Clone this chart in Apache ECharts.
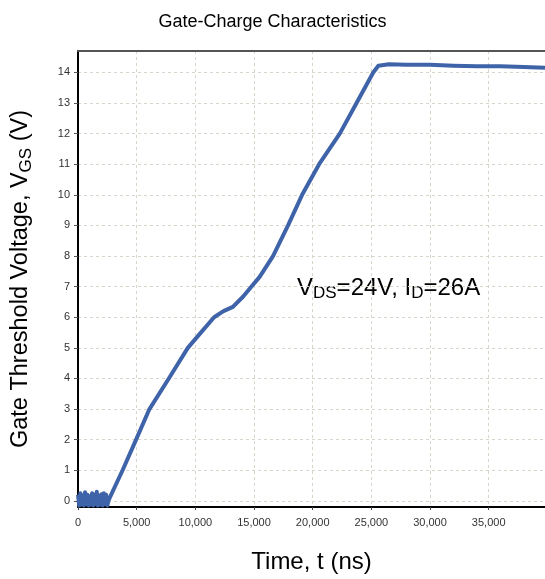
<!DOCTYPE html>
<html>
<head>
<meta charset="utf-8">
<script src="https://cdn.jsdelivr.net/npm/echarts@6/dist/echarts.min.js"></script>
<style>
html,body{margin:0;padding:0;background:#fff;}
#c{width:545px;height:579px;}
</style>
</head>
<body>
<div id="c"></div>
<script>
// Time (ns) and gate voltage V_GS (V)
const timeNs = [
  0, 100, 200, 300, 400, 500, 600, 700, 800, 900, 1000, 1100, 1200, 1300,
  1400, 1500, 1600, 1700, 1800, 1900, 2000, 2100, 2200, 2300, 2400, 2500, 2600,
  2700, 3800, 4950, 6090, 7740, 9360, 10360, 11600, 12400, 13200, 14060, 14770,
  15480, 16620, 17900, 19100, 20550, 22310, 23740, 25160, 25600, 26500, 28000,
  30000, 32000, 34000, 36000, 38000, 39800
];
const vgs = [
  0.2, -0.15, 0.25, -0.12, 0.18, -0.15, 0.28, -0.1, 0.2, -0.15, 0.15, -0.12, 0.25,
  -0.15, 0.2, -0.1, 0.3, -0.15, 0.18, -0.12, 0.22, -0.15, 0.25, -0.1, 0.2, -0.15, 0.0,
  0.1, 1.0, 2.0, 3.0, 4.0, 5.0, 5.45, 6.0, 6.2, 6.34, 6.67, 7.0,
  7.32, 8.0, 9.0, 10.0, 11.0, 12.0, 13.0, 14.0, 14.22, 14.27, 14.25,
  14.25, 14.22, 14.2, 14.2, 14.18, 14.15
];
const xTicks = [0, 5000, 10000, 15000, 20000, 25000, 30000, 35000];
const yTicks = [0, 1, 2, 3, 4, 5, 6, 7, 8, 9, 10, 11, 12, 13, 14];

const chart = echarts.init(document.getElementById('c'), null, {renderer: 'canvas'});
const FONT = 'Liberation Sans, Arial, sans-serif';
const gridLine = {show: true, lineStyle: {color: '#d8d5cb', type: [3, 3], width: 1}};

chart.setOption({
  animation: false,
  backgroundColor: '#ffffff',
  title: {
    text: 'Gate-Charge Characteristics',
    left: 'center',
    top: 8,
    textStyle: {fontFamily: FONT, fontSize: 18, fontWeight: 'normal', color: '#000'}
  },
  grid: {left: 78, top: 51, right: 0, bottom: 72, containLabel: false, outerBoundsMode: 'none'},
  xAxis: [{
    type: 'value',
    min: 0, max: 39800,
    position: 'bottom',
    name: 'Time, t (ns)',
    nameLocation: 'middle',
    nameGap: 41,
    nameTextStyle: {fontFamily: FONT, fontSize: 24, color: '#000', lineHeight: 28},
    axisLine: {show: true, onZero: false, lineStyle: {color: '#000', width: 2}},
    axisTick: {show: true, length: 3, customValues: xTicks, lineStyle: {color: '#444'}},
    axisLabel: {
      customValues: xTicks, margin: 10, fontFamily: FONT, fontSize: 11, color: '#333',
      formatter: v => Number(v).toLocaleString('en-US')
    },
    splitLine: gridLine
  }, {
    type: 'value',
    min: 0, max: 39800,
    position: 'top',
    axisLine: {show: true, onZero: false, lineStyle: {color: '#555', width: 2}},
    axisTick: {show: false},
    axisLabel: {show: false},
    splitLine: {show: false}
  }],
  yAxis: {
    type: 'value',
    min: -0.2, max: 14.7,
    name: '{a|Gate Threshold Voltage, V}{s|GS}{a| (V)}',
    nameLocation: 'middle',
    nameGap: 43,
    nameTextStyle: {
      fontFamily: FONT, color: '#000',
      rich: {
        a: {fontFamily: FONT, fontSize: 23.5, color: '#000', lineHeight: 28},
        s: {fontFamily: FONT, fontSize: 17, color: '#000', lineHeight: 17, verticalAlign: 'bottom'}
      }
    },
    axisLine: {show: true, onZero: false, lineStyle: {color: '#000', width: 2}},
    axisTick: {show: true, length: 4, customValues: yTicks, lineStyle: {color: '#555'}},
    axisLabel: {customValues: yTicks, margin: 8, fontFamily: FONT, fontSize: 11, color: '#333'},
    splitLine: gridLine
  },
  graphic: [{
    type: 'text',
    left: 297,
    top: 276,
    style: {
      text: '{a|V}{b|DS}{a|=24V, I}{b|D}{a|=26A}',
      rich: {
        a: {fontFamily: FONT, fontSize: 24, fill: '#000', lineHeight: 28},
        b: {fontFamily: FONT, fontSize: 17, fill: '#000', lineHeight: 17, verticalAlign: 'bottom'}
      }
    }
  }],
  series: [{
    type: 'line',
    xAxisIndex: 0,
    data: timeNs.map((t, i) => [t, vgs[i]]),
    showSymbol: false,
    symbol: 'none',
    smooth: false,
    clip: false,
    lineStyle: {color: '#3f63a8', width: 4, join: 'round'},
    z: 5
  }]
});
</script>
</body>
</html>
